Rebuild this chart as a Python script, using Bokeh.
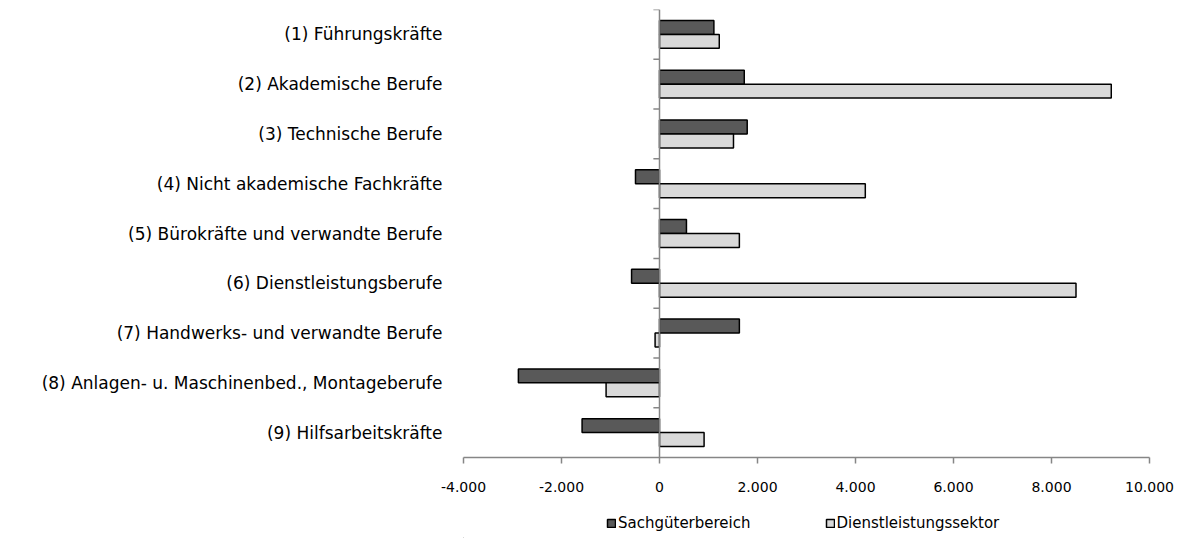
from bokeh.plotting import figure
from bokeh.layouts import column
from bokeh.models import Range1d, FixedTicker, Span, Legend, LegendItem, ColumnDataSource
from bokeh.embed import file_html
from bokeh.resources import INLINE

categories = [
    "(1) Führungskräfte",
    "(2) Akademische Berufe",
    "(3) Technische Berufe",
    "(4) Nicht akademische Fachkräfte",
    "(5) Bürokräfte und verwandte Berufe",
    "(6) Dienstleistungsberufe",
    "(7) Handwerks- und verwandte Berufe",
    "(8) Anlagen- u. Maschinenbed., Montageberufe",
    "(9) Hilfsarbeitskräfte",
]
sachgueter = [1110, 1730, 1790, -490, 550, -570, 1630, -2880, -1580]
dienstleistung = [1220, 9220, 1510, 4200, 1630, 8500, -90, -1090, 910]
x_ticks = [-4000, -2000, 0, 2000, 4000, 6000, 8000, 10000]
x_tick_labels = ["-4.000", "-2.000", "0", "2.000", "4.000", "6.000", "8.000", "10.000"]
series_names = ["Sachgüterbereich", "Dienstleistungssektor"]

FONT = "DejaVu Sans"
AXIS_GRAY = "#868686"
DARK = "#595959"
LIGHT = "#d9d9d9"
n = len(categories)
centers = [n - i - 0.5 for i in range(n)]

src = ColumnDataSource(dict(
    y1=[c + 0.14 for c in centers],
    y2=[c - 0.14 for c in centers],
    v1=sachgueter,
    v2=dienstleistung,
))

p = figure(width=1182, height=508, output_backend="svg", toolbar_location=None,
           x_range=Range1d(-4000, 10000), y_range=Range1d(0, n),
           min_border_left=463, min_border_right=33, min_border_top=9, min_border_bottom=51)
p.outline_line_color = None
p.xgrid.visible = False
p.ygrid.visible = False

p.hbar(y="y1", left=0, right="v1", height=0.28, source=src,
       fill_color=DARK, line_color="black", line_width=1.5)
p.hbar(y="y2", left=0, right="v2", height=0.28, source=src,
       fill_color=LIGHT, line_color="black", line_width=1.5)

# zero line with category boundary ticks
p.add_layout(Span(location=0, dimension="height", line_color=AXIS_GRAY, line_width=1.5))
bounds = list(range(1, n + 1))
p.segment(x0=[-125] * len(bounds), x1=[0] * len(bounds), y0=bounds, y1=bounds,
          line_color=AXIS_GRAY, line_width=1.5)

# x axis
xa = p.xaxis[0]
xa.ticker = FixedTicker(ticks=x_ticks)
xa.major_label_overrides = {t: l for t, l in zip(x_ticks, x_tick_labels)}
xa.axis_line_color = AXIS_GRAY
xa.axis_line_width = 1.5
xa.major_tick_line_color = AXIS_GRAY
xa.major_tick_line_width = 1.5
xa.major_tick_out = 6
xa.major_tick_in = 0
xa.minor_tick_line_color = None
xa.major_label_text_font = FONT
xa.major_label_text_font_size = "14px"
xa.major_label_text_color = "black"
xa.major_label_standoff = 18

# y axis (labels only)
ya = p.yaxis[0]
ya.ticker = FixedTicker(ticks=centers)
ya.major_label_overrides = {c: l for c, l in zip(centers, categories)}
ya.axis_line_color = None
ya.major_tick_line_color = None
ya.major_tick_out = 0
ya.major_tick_in = 0
ya.minor_tick_line_color = None
ya.minor_tick_out = 0
ya.major_label_text_font = FONT
ya.major_label_text_font_size = "17px"
ya.major_label_text_color = "black"
ya.major_label_standoff = 21

# legend strip below (frame aligned with the main plot's frame)
lg = figure(width=1182, height=30, output_backend="svg", toolbar_location=None,
            x_range=Range1d(0, 1), y_range=Range1d(0, 1),
            min_border_left=463, min_border_right=33, min_border_top=0, min_border_bottom=0)
lg.axis.visible = False
lg.grid.visible = False
lg.outline_line_color = None
# proxy renderers (outside the visible range, zero size) for the legend swatches
d1 = lg.hbar(y=[-50], left=[-50], right=[-50], height=0, fill_color=DARK,
             line_color="black", line_width=1.5)
d2 = lg.hbar(y=[-50], left=[-50], right=[-50], height=0, fill_color=LIGHT,
             line_color="black", line_width=1.5)
legend = Legend(items=[LegendItem(label=series_names[0], renderers=[d1]),
                       LegendItem(label=series_names[1], renderers=[d2])],
                orientation="horizontal", location=(143, 6),
                label_text_font=FONT, label_text_font_size="15px", label_text_color="black",
                glyph_width=10, glyph_height=10, label_standoff=2, spacing=74,
                padding=0, margin=0, border_line_color=None, background_fill_alpha=0)
lg.add_layout(legend, "center")

layout = column(p, lg, spacing=0)
open("out.html", "w").write(file_html(layout, INLINE))
